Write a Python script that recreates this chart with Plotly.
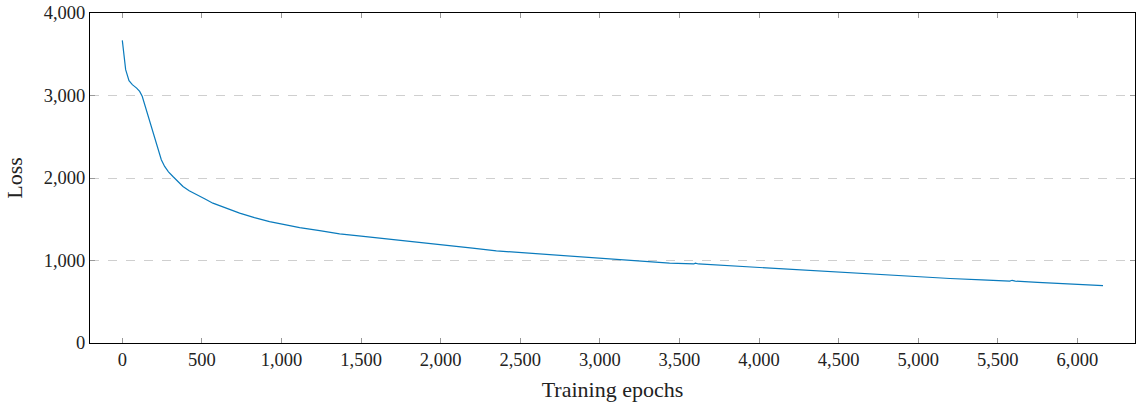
import plotly.graph_objects as go

epochs = [0, 21, 42, 63, 90, 109, 125, 150, 171, 195, 213, 230, 245, 266, 290, 318, 350, 381,
          420, 465, 520, 569, 650, 737, 830, 925, 1020, 1114, 1240, 1365, 1500, 1650, 1800,
          1932, 2050, 2200, 2350, 2550, 2768, 2950, 3126, 3300, 3438, 3590, 3600, 3620, 3753,
          3950, 4171, 4400, 4590, 4800, 5009, 5200, 5400, 5575, 5590, 5610, 5750, 5931, 6050, 6161]
loss = [3669, 3313, 3180, 3131, 3090, 3050, 2990, 2830, 2686, 2540, 2443, 2330, 2221, 2140, 2075,
        2018, 1955, 1897, 1845, 1796, 1745, 1695, 1635, 1574, 1520, 1472, 1435, 1399, 1362, 1323,
        1295, 1265, 1235, 1210, 1185, 1150, 1117, 1090, 1060, 1035, 1016, 990, 968, 958, 968, 958,
        943, 918, 890, 868, 846, 820, 800, 782, 765, 750, 760, 750, 735, 716, 708, 696]

x_ticks = list(range(0, 6001, 500))
y_ticks = [0, 1000, 2000, 3000, 4000]

font = dict(family="Liberation Serif, DejaVu Serif, serif", size=18.5, color="#222222")

fig = go.Figure()
fig.add_trace(go.Scatter(x=epochs, y=loss, mode="lines",
                         line=dict(color="#0a7bbd", width=1.2), showlegend=False))

fig.update_layout(
    width=1136, height=403,
    margin=dict(l=90, r=1, t=13, b=60),
    paper_bgcolor="white", plot_bgcolor="white",
    font=font,
)
fig.update_xaxes(
    range=[-203, 6362], tickvals=x_ticks, tickformat=",",
    showgrid=False, zeroline=False,
    showline=True, linecolor="black", linewidth=1, mirror="ticks",
    ticks="inside", ticklen=5, tickcolor="#999999",
    title=dict(text="Training epochs", standoff=12),
)
fig.update_yaxes(
    range=[0, 4000], tickvals=y_ticks, tickformat=",",
    showgrid=True, gridcolor="#cfcfcf", griddash="dash", gridwidth=1,
    zeroline=False,
    showline=True, linecolor="black", linewidth=1, mirror="ticks",
    ticks="inside", ticklen=5, tickcolor="#999999",
    title=dict(text="Loss", standoff=14),
)

fig.write_html("out.html")
